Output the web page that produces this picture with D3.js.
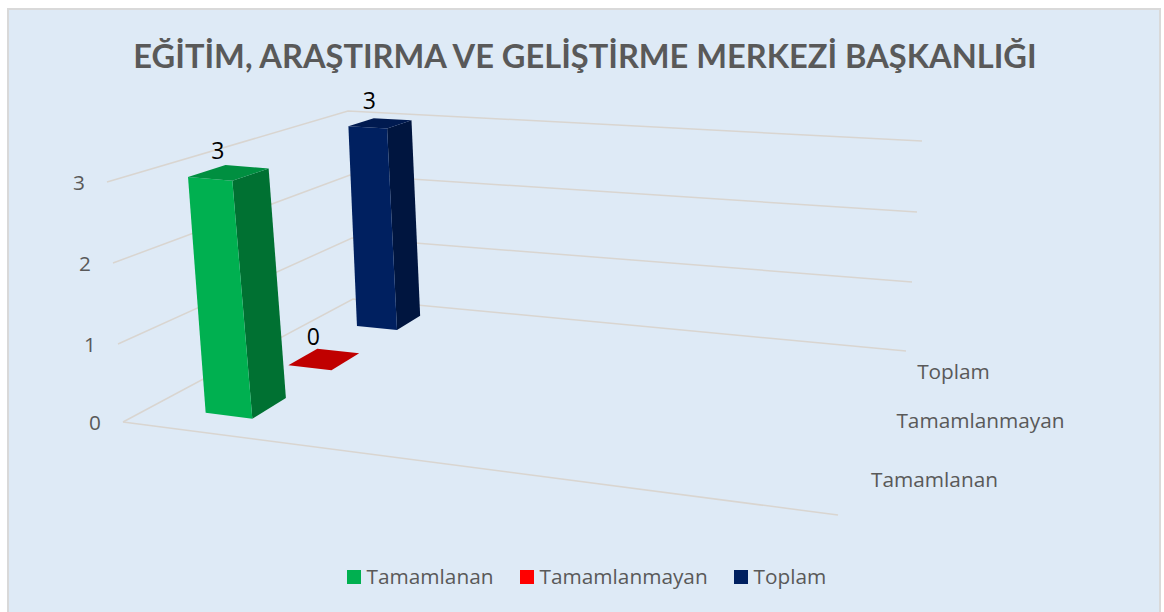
<!DOCTYPE html>
<html><head><meta charset="utf-8"><script src="https://cdn.jsdelivr.net/npm/d3@7"></script>
<style>html,body{margin:0;background:#fff}svg{display:block}text{font-family:"Open Sans","Noto Sans",sans-serif}</style></head><body><svg width="1164" height="612"></svg>
<script>
const titleText="EĞİTİM, ARAŞTIRMA VE GELİŞTİRME MERKEZİ BAŞKANLIĞI";
const seriesNames=["Tamamlanan","Tamamlanmayan","Toplam"];
const seriesValues=[3,0,3];
const valueTicks=[0,1,2,3];
const frontColors=["#00b050","#ff0000","#002060"];
const sideColors=["#007132","#a00000","#00153f"];
const topColors=["#008f40","#c00000","#001a50"];

const svg=d3.select("svg");
svg.append("rect").attr("x",8).attr("y",9).attr("width",1152).attr("height",610).attr("fill","#deeaf6").attr("stroke","#d9d9d9").attr("stroke-width",2);

// 3-D projection: floor quad interpolated up the value axis, perspective by homography
const lv=(...r)=>d3.scaleLinear().domain(valueTicks).range(r);
const corners=[
 [lv(123,118,113,107),lv(422,344,263,182)],
 [lv(838,843,848,854),lv(515,428,339,249)],
 [lv(906,912,917,922),lv(351,282,212,141)],
 [lv(353,352,350,348),lv(299,238,175,111)]];
function homography(q){const [a,b,c,d]=q;const dx1=b[0]-c[0],dx2=d[0]-c[0],sx=a[0]-b[0]+c[0]-d[0],dy1=b[1]-c[1],dy2=d[1]-c[1],sy=a[1]-b[1]+c[1]-d[1];
 const den=dx1*dy2-dx2*dy1,g=(sx*dy2-dx2*sy)/den,h=(dx1*sy-sx*dy1)/den;
 return [b[0]-a[0]+g*b[0],d[0]-a[0]+h*d[0],a[0],b[1]-a[1]+g*b[1],d[1]-a[1]+h*d[1],a[1],g,h];}
function project(u,d,v){const q=corners.map(c=>[c[0](v),c[1](v)]);const [a,b,c,e,f,k,g,h]=homography(q);const w=g*u+h*d+1;return [(a*u+b*d+c)/w,(e*u+f*d+k)/w];}

const depth=d3.scaleBand().domain(seriesNames).range([0,1.01]).paddingInner(.6).paddingOuter(.3);
const cat=d3.scaleBand().domain(["c"]).range([0,.2528]).paddingInner(.7).paddingOuter(.33);
const grid="#d9d5d0";
const line=d3.line();

// gridlines on walls
valueTicks.forEach(v=>{
 svg.append("path").attr("fill","none").attr("stroke",grid).attr("stroke-width",1.5)
  .attr("d",line([project(0,0,v),project(0,1,v),project(1,1,v)]));
});
svg.append("path").attr("fill","none").attr("stroke",grid).attr("stroke-width",1.5).attr("d",line([project(0,0,0),project(1,0,0)]));

// axis labels
const tickFont=20.8;
valueTicks.forEach(v=>{const p=project(0,0,v);
 svg.append("text").attr("x",p[0]-28).attr("y",p[1]+8).attr("text-anchor","middle").attr("font-size",tickFont).attr("fill","#595959").text(v);});
const labelEnds=[[934.5,487],[980.5,428],[953.5,379]];
seriesNames.forEach((n,i)=>svg.append("text").attr("x",labelEnds[i][0]).attr("y",labelEnds[i][1]).attr("text-anchor","middle").attr("font-size",tickFont).attr("fill","#595959").text(n));

// bars, back to front
d3.range(seriesNames.length).reverse().forEach(i=>{
 const n=seriesNames[i],v=seriesValues[i],d0=depth(n),d1=d0+depth.bandwidth(),u0=cat("c"),u1=u0+cat.bandwidth();
 const P=(u,d,val)=>project(u,d,val);
 const g=svg.append("g");
 if(v>0){
  g.append("path").attr("fill",sideColors[i]).attr("d",line([P(u1,d0,0),P(u1,d1,0),P(u1,d1,v),P(u1,d0,v)])+"Z");
  g.append("path").attr("fill",frontColors[i]).attr("d",line([P(u0,d0,0),P(u1,d0,0),P(u1,d0,v),P(u0,d0,v)])+"Z");
 }
 g.append("path").attr("fill",topColors[i]).attr("d",line([P(u0,d0,v),P(u1,d0,v),P(u1,d1,v),P(u0,d1,v)])+"Z");
 const c=P((u0+u1)/2,(d0+d1)/2,v);
 svg.append("text").attr("x",c[0]-11).attr("y",c[1]-14).attr("text-anchor","middle").attr("font-size",23).attr("fill","#000").text(v);
});

// title
svg.append("text").attr("x",585).attr("y",68).attr("text-anchor","middle").attr("font-size",32.6).attr("font-weight",700).attr("fill","#595959").style("font-family","Lato").text(titleText);

// legend
const legendX=[347,520,734];
seriesNames.forEach((n,i)=>{
 svg.append("rect").attr("x",legendX[i]).attr("y",570).attr("width",14).attr("height",14).attr("fill",frontColors[i]);
 svg.append("text").attr("x",legendX[i]+19.5).attr("y",584).attr("font-size",20.8).attr("fill","#595959").text(n);
});
</script></body></html>
